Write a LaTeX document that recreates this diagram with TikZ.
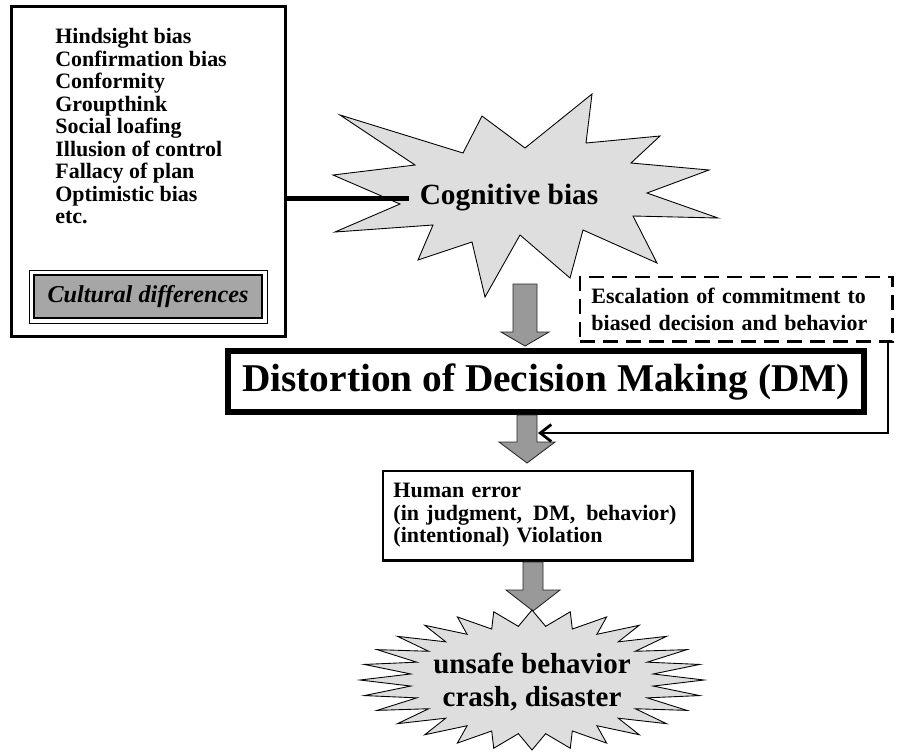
\documentclass[tikz,border=0pt]{standalone}
\usepackage{fontspec}
\setmainfont{Liberation Serif}
\usetikzlibrary{arrows.meta}

\definecolor{burstgray}{gray}{0.87}
\definecolor{arrowgray}{gray}{0.6}
\definecolor{culturegray}{gray}{0.65}

\begin{document}
\begin{tikzpicture}[x=0.02cm, y=-0.02cm,
    burst/.style={draw=black, line width=0.5pt, fill=burstgray},
    blockarrow/.style={draw=black!85, line width=0.5pt, fill=arrowgray},
    listfont/.style={font=\fontsize{12.5}{12.8}\selectfont\bfseries},
    bigfont/.style={font=\fontsize{16.7}{19}\selectfont\bfseries}]

        \useasboundingbox (0,0) rectangle (899,751);

        \draw[burst] (340,115) -- (463,153) -- (482,116) -- (525,148) -- (592,94) -- (586,143)
            -- (660,136) -- (631,163) -- (709,170) -- (647,193) -- (718,218) -- (633,216)
            -- (657,263) -- (583,230) -- (570,278) -- (520,235) -- (485,297) -- (472,242)
            -- (418,260) -- (433,225) -- (335,232) -- (400,204) -- (333,175) -- (415,165) -- cycle;

        \node[draw, line width=1.7pt, minimum width=5.48cm, minimum height=6.6cm] (factors) at (148.5,171.5) {};
        \node[listfont, anchor=north west, inner sep=0pt, align=left] (biaslist) at (55,28)
            {Hindsight bias\\Confirmation bias\\Conformity\\Groupthink\\Social loafing\\
             Illusion of control\\Fallacy of plan\\Optimistic bias\\etc.};
        \node[draw, line width=1.1pt, fill=culturegray, minimum width=4.56cm, minimum height=0.86cm,
            inner sep=0pt, font=\fontsize{13.8}{15}\selectfont\bfseries\itshape] (culture) at (148,296.5)
            {Cultural differences};
        \draw[line width=0.5pt] ([shift={(-4,-4)}]culture.north west) rectangle ([shift={(4,4)}]culture.south east);

        \node[bigfont, inner xsep=0.2cm, inner ysep=0pt] (cog) at (509,198) {Cognitive bias};
        \draw[line width=2.85pt] (cog.west -| factors.east) -- (cog.west);

        \node[draw, line width=1.7pt, dash pattern=on 0.3cm off 0.16cm, anchor=north west,
            inner xsep=0.23cm, inner ysep=0.22cm, text width=5.8cm, align=left,
            font=\fontsize{12.5}{15.3}\selectfont\bfseries] (escal) at (578.5,275.5)
            {Escalation of commitment to\\biased decision and behavior};

        \node[draw, line width=3.4pt, minimum width=12.72cm, minimum height=1.22cm,
            font=\fontsize{22.4}{24}\selectfont\bfseries] (dm) at (546,381.5)
            {Distortion of Decision Making (DM)};

        \node[draw, line width=1.7pt, anchor=north west, inner xsep=0.21cm, inner ysep=0.25cm,
            text width=5.78cm, align=left, listfont] (err) at (381.5,469.5)
            {Human error\\(in judgment,\ \,DM,\ \,behavior)\\(intentional) Violation};

        \draw[blockarrow] (513,284) -- (537,284) -- (537,332) -- (549,332) -- (525,346)
            -- (501,332) -- (513,332) -- cycle;
        \draw[blockarrow] (517,415) -- (537,415) -- (537,442) -- (555,442) -- (527,463)
            -- (499,442) -- (517,442) -- cycle;
        \draw[blockarrow] (523,562) -- (543,562) -- (543,590) -- (560,590) -- (533,611)
            -- (506,590) -- (523,590) -- cycle;

        \coordinate (fbend) at (538,433);
        \draw[line width=1.6pt, -{Straight Barb[length=0.22cm, width=0.34cm]}]
            ([xshift=-0.13cm]escal.south east) |- (fbend);

        \draw[burst, shift={(532,680)}] (0:172 and 70)
            \foreach \k in {0,...,27} { -- ({(\k+0.5)*360/28}:122 and 54) -- ({(\k+1)*360/28}:172 and 70) } -- cycle;
        \node[align=center, inner sep=0pt, font=\fontsize{16.5}{19}\selectfont\bfseries] (crash) at (532,682)
            {unsafe behavior\\crash, disaster};
    \end{tikzpicture}
\end{document}
